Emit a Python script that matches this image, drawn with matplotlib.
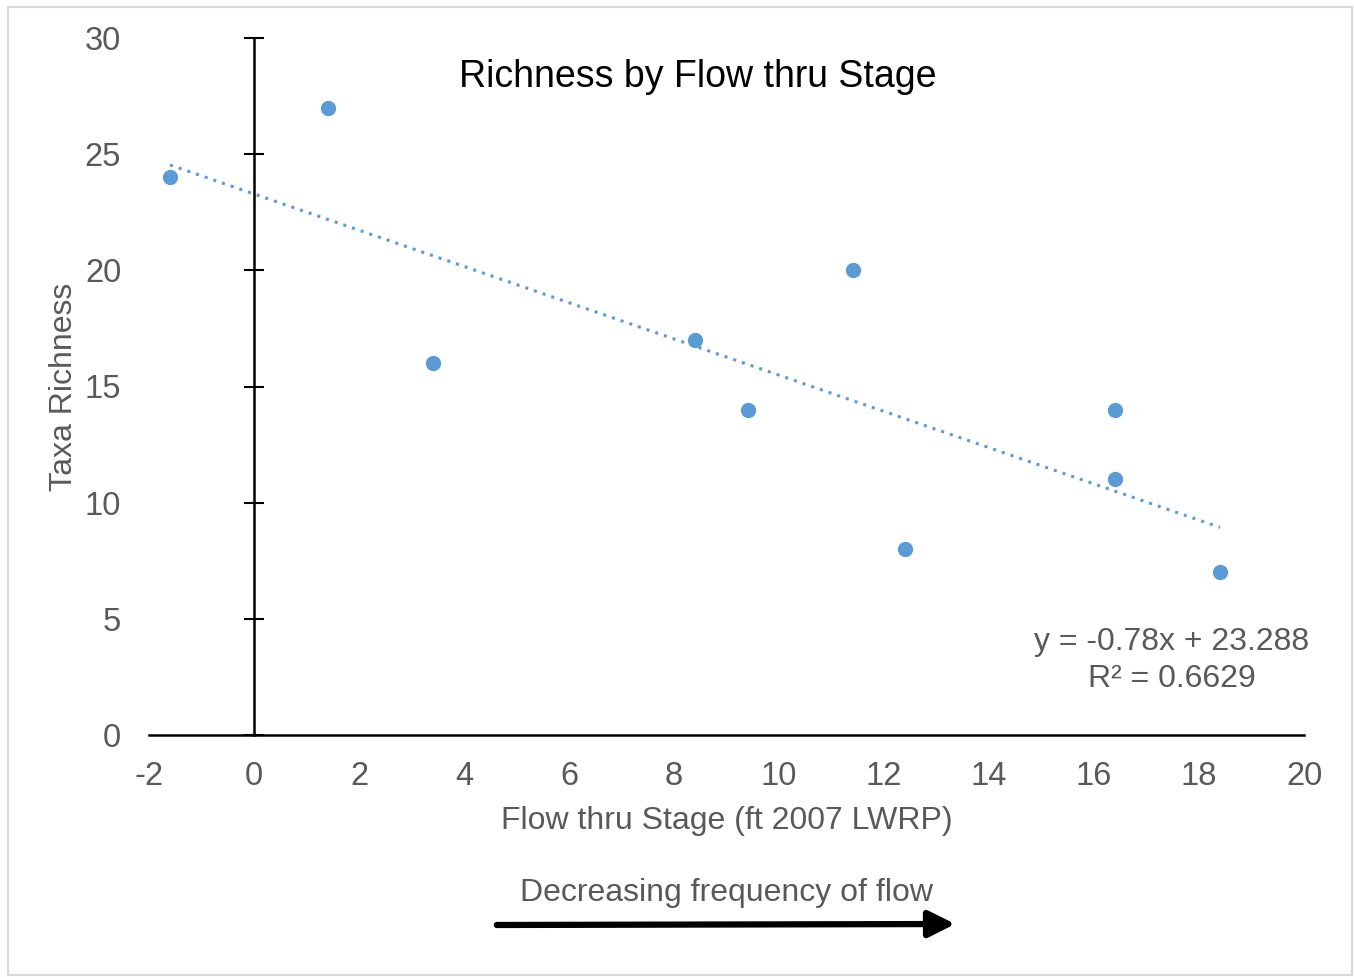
import matplotlib.pyplot as plt
import numpy as np
from matplotlib.patches import Rectangle, FancyArrowPatch

plt.rcParams['font.family'] = ['Liberation Sans', 'DejaVu Sans']
plt.rcParams['axes.unicode_minus'] = False

# data
stage = [-1.6, 1.4, 3.4, 8.4, 9.4, 11.4, 12.4, 16.4, 16.4, 18.4]
richness = [24, 27, 16, 17, 14, 20, 8, 14, 11, 7]
x_ticks = [-2, 0, 2, 4, 6, 8, 10, 12, 14, 16, 18, 20]
y_ticks = [0, 5, 10, 15, 20, 25, 30]

BLUE = "#5B9BD5"
GRAY = "#595959"
FS = 23.5

fig = plt.figure(figsize=(13.54, 9.77), dpi=100)
ax = fig.add_axes([149 / 1354, 1 - 735 / 977, 1155 / 1354, 697 / 977])

# linear trend over the data range
slope, intercept = np.polyfit(stage, richness, 1)
xs = np.array([min(stage), max(stage)])
ax.plot(xs, slope * xs + intercept, color=BLUE, linestyle=(0, (1, 2)),
        linewidth=2.2, zorder=2)
ax.plot(stage, richness, "o", color=BLUE, markersize=10, zorder=3)

ax.set_xlim(-2, 20)
ax.set_ylim(0, 30)
ax.set_xticks(x_ticks)
ax.set_yticks(y_ticks)
ax.tick_params(axis="x", length=0, pad=19, labelsize=FS, labelcolor=GRAY)
ax.tick_params(axis="y", length=0, pad=20, labelsize=FS, labelcolor=GRAY)
for s in ["top", "right", "left"]:
    ax.spines[s].set_visible(False)
ax.spines["bottom"].set_linewidth(1.8)

# vertical axis drawn at x = 0, with ticks crossing it
sec = ax.secondary_yaxis(2 / 22)
sec.set_yticks(y_ticks)
sec.tick_params(direction="inout", length=14, width=1.5, labelleft=False,
                labelright=False)
sec.spines["left"].set_linewidth(1.8)
sec.spines["right"].set_visible(False)

ax.set_xlabel("Flow thru Stage (ft 2007 LWRP)", fontsize=FS - 0.5, color=GRAY,
              labelpad=10)
ax.set_ylabel("Taxa Richness", fontsize=FS - 0.5, color=GRAY, labelpad=4)

fig.text(698 / 1354, 1 - 77 / 977, "Richness by Flow thru Stage",
         fontsize=27, ha="center", va="center", color="black")
fig.text(1172 / 1354, 1 - 642 / 977, "y = -0.78x + 23.288", fontsize=FS - 0.5,
         ha="center", va="center", color=GRAY)
fig.text(1172 / 1354, 1 - 679 / 977, "R² = 0.6629", fontsize=FS - 0.5,
         ha="center", va="center", color=GRAY)

fig.text(727 / 1354, 1 - 893 / 977, "Decreasing frequency of flow",
         fontsize=FS - 0.5, ha="center", va="center", color=GRAY)
arrow = FancyArrowPatch((494 / 1354, 1 - 925 / 977), (958 / 1354, 1 - 924 / 977),
                        transform=fig.transFigure, arrowstyle="-|>,head_length=16,head_width=8",
                        linewidth=4.5, color="black", mutation_scale=1)
fig.patches.append(arrow)

fig.patches.append(Rectangle((8 / 1354, 2 / 977), 1344 / 1354, 968 / 977,
                             transform=fig.transFigure, fill=False,
                             edgecolor="#D9D9D9", linewidth=1.5))

fig.savefig("out.png", dpi=100)
